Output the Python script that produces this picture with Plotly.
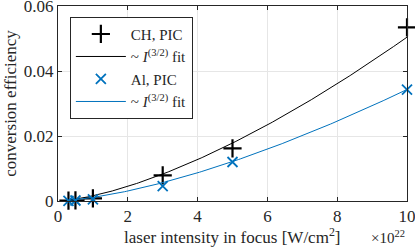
import numpy as np
import plotly.graph_objects as go

# data (intensity in units of 1e22 W/cm^2)
intensity = [0.3, 0.5, 1.0, 3.0, 5.0, 10.0]
ch_pic = [0.0001, 0.0002, 0.0008, 0.0079, 0.0162, 0.0534]
al_pic = [0.00006, 0.00015, 0.0005, 0.0046, 0.0120, 0.0343]
# I^(3/2) fit coefficients
ch_fit_coef = 0.001594
al_fit_coef = 0.001085

x_ticks = [0, 2, 4, 6, 8, 10]
y_ticks = [0, 0.02, 0.04, 0.06]
y_tick_labels = ["0", "0.02", "0.04", "0.06"]

blue = "#0072BD"
font = "Liberation Serif"
fs = 17
ink = "#262626"

xf = np.linspace(min(intensity), max(intensity), 200)

fig = go.Figure()
fig.add_trace(go.Scatter(x=intensity, y=ch_pic, mode="markers", name="CH, PIC",
                         cliponaxis=False,
                         marker=dict(symbol="cross-thin", size=13, color="black",
                                     line=dict(width=2.2, color="black"))))
fig.add_trace(go.Scatter(x=xf, y=ch_fit_coef * xf ** 1.5, mode="lines",
                         name="~ <i>I</i><sup>(3/2)</sup> fit",
                         line=dict(color="black", width=1)))
fig.add_trace(go.Scatter(x=intensity, y=al_pic, mode="markers", name="Al, PIC",
                         cliponaxis=False,
                         marker=dict(symbol="x-thin", size=10, color=blue,
                                     line=dict(width=1.8, color=blue))))
fig.add_trace(go.Scatter(x=xf, y=al_fit_coef * xf ** 1.5, mode="lines",
                         name="~ <i>I</i><sup>(3/2)</sup> fit",
                         line=dict(color=blue, width=1)))

axis_common = dict(showline=True, linecolor=ink, linewidth=1, mirror="ticks",
                   ticks="inside", ticklen=4, tickcolor=ink, automargin=False,
                   ticklabeloverflow="allow",
                   showgrid=True, gridcolor="#e6e6e6", gridwidth=1, zeroline=False,
                   tickfont=dict(family=font, size=fs, color=ink))

fig.update_layout(
    width=415, height=249,
    margin=dict(l=58, r=8, t=6, b=48),
    paper_bgcolor="white", plot_bgcolor="white",
    font=dict(family=font, size=fs, color=ink),
    showlegend=True,
    legend=dict(x=0.034, y=0.945, xanchor="left", yanchor="top",
                bordercolor=ink, borderwidth=1, bgcolor="white",
                font=dict(family=font, size=15, color=ink),
                tracegroupgap=0, itemwidth=50),
    xaxis=dict(range=[0, 10], tickvals=x_ticks, **axis_common),
    yaxis=dict(range=[0, 0.06], tickvals=y_ticks, ticktext=y_tick_labels,
               title=dict(text="conversion efficiency",
                          font=dict(family=font, size=fs), standoff=2),
               **axis_common),
)
fig.add_annotation(text="laser intensity in focus [W/cm<sup>2</sup>]",
                   xref="paper", yref="paper", x=0.5, y=-0.18,
                   xanchor="center", yanchor="middle", showarrow=False,
                   font=dict(family=font, size=fs, color=ink))
fig.add_annotation(text="×10<sup>22</sup>", xref="paper", yref="paper",
                   x=1.0, y=-0.13, xanchor="right", yanchor="top",
                   showarrow=False, font=dict(family=font, size=15, color=ink))

fig.write_html("out.html", config={"displayModeBar": False},
               post_script="document.body.style.margin='0';document.body.style.overflow='hidden';")
